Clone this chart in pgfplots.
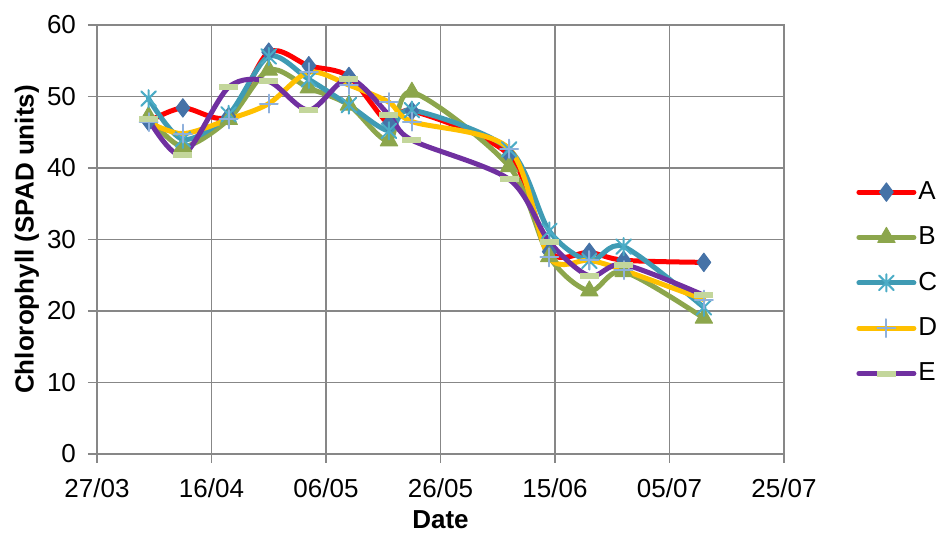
\documentclass[border=0pt]{standalone}
\usepackage{pgfplots}
\pgfplotsset{compat=1.18}
\usepackage{fontspec}
\setmainfont{Liberation Sans}
\definecolor{gridgray}{HTML}{878787}
\definecolor{lineA}{HTML}{FF0000}
\definecolor{markA}{HTML}{4572A7}
\definecolor{lineB}{HTML}{8CA64C}
\definecolor{markB}{HTML}{8CA64C}
\definecolor{lineC}{HTML}{3F9BB4}
\definecolor{markC}{HTML}{4BACC6}
\definecolor{lineD}{HTML}{FFC000}
\definecolor{markD}{HTML}{8EB0DC}
\definecolor{lineE}{HTML}{7030A0}
\definecolor{markE}{HTML}{C3D69B}
\pgfdeclareplotmark{xstar}{%
  \pgfpathmoveto{\pgfqpoint{0pt}{\pgfplotmarksize}}%
  \pgfpathlineto{\pgfqpoint{0pt}{-\pgfplotmarksize}}%
  \pgfpathmoveto{\pgfqpoint{-0.85\pgfplotmarksize}{0.85\pgfplotmarksize}}%
  \pgfpathlineto{\pgfqpoint{0.85\pgfplotmarksize}{-0.85\pgfplotmarksize}}%
  \pgfpathmoveto{\pgfqpoint{-0.85\pgfplotmarksize}{-0.85\pgfplotmarksize}}%
  \pgfpathlineto{\pgfqpoint{0.85\pgfplotmarksize}{0.85\pgfplotmarksize}}%
  \pgfusepathqstroke}
\pgfplotstableread{
day A    B    C    D    E
9   46.5 47.2 49.7 46.4 46.8
15  48.4 43.0 44.0 44.8 41.8
23  47.2 46.8 47.5 46.8 51.3
30  56.2 53.7 55.6 49.0 52.1
37  54.3 51.2 52.4 53.4 48.1
44  52.8 48.8 48.8 51.6 52.5
51  46.2 43.8 45.2 49.2 47.4
55  48.0 50.6 48.1 46.5 43.9
72  41.8 40.2 42.6 42.7 38.4
79  28.3 27.6 31.2 27.5 29.7
86  28.2 22.8 27.0 27.1 24.9
92  27.1 25.5 29.0 25.7 26.5
106 26.8 19.0 20.5 21.6 22.2
}\datatable
\begin{document}
\begin{tikzpicture}
\path[use as bounding box] (-48.5pt,-39.5pt) rectangle (419.5pt,227pt);
\begin{axis}[
  scale only axis, width=343.5pt, height=214.5pt,
  xmin=0, xmax=120, ymin=0, ymax=60,
  xtick={0,20,...,120},
  xticklabels={27/03,16/04,06/05,26/05,15/06,05/07,25/07},
  ytick={0,10,...,60},
  grid=major, grid style={gridgray, line width=0.75pt},
  axis line style={gridgray, line width=0.75pt},
  tick align=outside, xtick pos=left, ytick pos=left,
  major tick length=4.5pt, tick style={gridgray, line width=0.75pt},
  tick label style={font=\fontsize{13}{15}\selectfont, text=black},
  xticklabel style={yshift=-4.5pt},
  yticklabel style={xshift=-2.5pt},
  /pgf/number format/assume math mode=true,
  xlabel={Date}, ylabel={Chlorophyll (SPAD units)},
  label style={font=\fontsize{13}{15}\selectfont\bfseries},
  xlabel style={at={(axis description cs:0.5,-0.153)}, anchor=center},
  ylabel style={at={(axis description cs:-0.1019,0.5)}, anchor=center},
  legend style={at={(axis description cs:1,0.399)}, anchor=west, xshift=33pt,
    draw=none, fill=none, font=\fontsize{13}{15}\selectfont, row sep=8.2pt,
    nodes={inner xsep=1pt}},
  legend cell align=left,
  legend image code/.code={\draw[mark repeat=2,mark phase=2] plot coordinates {(0pt,0pt)(13.75pt,0pt)(27.5pt,0pt)};},
  every axis plot/.append style={line width=2.5pt, line cap=round, line join=round, smooth},
]
\addplot[color=lineA, mark=diamond*, mark size=4.6pt, mark options={fill=markA, draw=markA, line width=0.5pt}] table[x=day,y=A] {\datatable};
\addlegendentry{A}
\addplot[color=lineB, mark=triangle*, mark size=5pt, mark options={fill=markB, draw=markB, line width=0.5pt}] table[x=day,y=B] {\datatable};
\addlegendentry{B}
\addplot[color=lineC, mark=xstar, mark size=4.3pt, mark options={draw=markC, line width=1pt}] table[x=day,y=C] {\datatable};
\addlegendentry{C}
\addplot[color=lineD, mark=+, mark size=4.5pt, mark options={draw=markD, line width=1pt}] table[x=day,y=D] {\datatable};
\addlegendentry{D}
\addplot[color=lineE, mark=-, mark size=4.75pt, mark options={draw=markE, line width=3pt, line cap=butt}] table[x=day,y=E] {\datatable};
\addlegendentry{E}
\end{axis}
\end{tikzpicture}
\end{document}
